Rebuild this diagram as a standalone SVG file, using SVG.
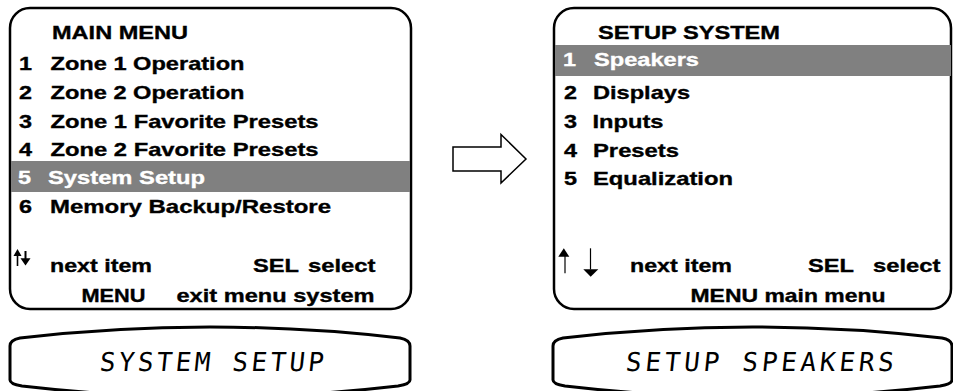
<svg xmlns="http://www.w3.org/2000/svg" width="953" height="391" viewBox="0 0 953 391">
<style>
.scr{fill:#fff;stroke:#000;stroke-width:2.5}
.bar{fill:#808080}
.t{font-family:"Liberation Sans",Arial,sans-serif;font-weight:bold;font-size:18.6px;fill:#000;stroke:#000;stroke-width:0.35}
.w{fill:#fff;stroke:#fff}
.lcd{fill:#fff;stroke:#000;stroke-width:3}
.lt{font-family:"DejaVu Sans Mono",monospace;font-size:26px;fill:#000}
.sym{fill:#000;stroke:none}
.stem{stroke:#000;fill:none}
</style>
<rect width="953" height="391" fill="#fff"/>

<g id="main-menu">
<rect class="scr" x="10" y="8" width="401" height="301" rx="20"/>
<rect class="bar" x="11" y="161" width="399" height="31"/>
<text class="t" x="52" y="39.3" textLength="136" lengthAdjust="spacingAndGlyphs">MAIN MENU</text>
<text class="t" x="19" y="70" textLength="13" lengthAdjust="spacingAndGlyphs">1</text>
<text class="t" x="50.5" y="70" textLength="194" lengthAdjust="spacingAndGlyphs">Zone 1 Operation</text>
<text class="t" x="19" y="98.6" textLength="13" lengthAdjust="spacingAndGlyphs">2</text>
<text class="t" x="50.5" y="98.6" textLength="194" lengthAdjust="spacingAndGlyphs">Zone 2 Operation</text>
<text class="t" x="19" y="127.5" textLength="13" lengthAdjust="spacingAndGlyphs">3</text>
<text class="t" x="50.5" y="127.5" textLength="268" lengthAdjust="spacingAndGlyphs">Zone 1 Favorite Presets</text>
<text class="t" x="19" y="156" textLength="13" lengthAdjust="spacingAndGlyphs">4</text>
<text class="t" x="50.5" y="156" textLength="268" lengthAdjust="spacingAndGlyphs">Zone 2 Favorite Presets</text>
<text class="t w" x="18" y="183.5" textLength="13" lengthAdjust="spacingAndGlyphs">5</text>
<text class="t w" x="48" y="183.5" textLength="157" lengthAdjust="spacingAndGlyphs">System Setup</text>
<text class="t" x="19" y="213" textLength="13" lengthAdjust="spacingAndGlyphs">6</text>
<text class="t" x="50" y="213" textLength="281" lengthAdjust="spacingAndGlyphs">Memory Backup/Restore</text>
<path class="stem" stroke-width="1.6" d="M17.5,254 V266"/>
<polygon class="sym" points="13.5,256 17.5,249 21.5,256"/>
<path class="stem" stroke-width="2" d="M25.5,251 V259"/>
<polygon class="sym" points="20.5,258.3 30.5,258.3 25.5,265.5"/>
<text class="t" x="50" y="271.7" textLength="102" lengthAdjust="spacingAndGlyphs">next item</text>
<text class="t" x="253" y="271.7" textLength="46" lengthAdjust="spacingAndGlyphs">SEL</text>
<text class="t" x="308" y="271.7" textLength="67.5" lengthAdjust="spacingAndGlyphs">select</text>
<text class="t" x="81.5" y="301.7" textLength="64" lengthAdjust="spacingAndGlyphs">MENU</text>
<text class="t" x="176.5" y="301.7" textLength="198" lengthAdjust="spacingAndGlyphs">exit menu system</text>
</g>

<g id="setup-system">
<rect class="scr" x="554" y="8" width="397" height="301" rx="20"/>
<rect class="bar" x="555" y="45" width="396" height="31"/>
<text class="t" x="598" y="39" textLength="182" lengthAdjust="spacingAndGlyphs">SETUP SYSTEM</text>
<text class="t w" x="563" y="65.7" textLength="13" lengthAdjust="spacingAndGlyphs">1</text>
<text class="t w" x="594" y="65.7" textLength="105" lengthAdjust="spacingAndGlyphs">Speakers</text>
<text class="t" x="564" y="99" textLength="13" lengthAdjust="spacingAndGlyphs">2</text>
<text class="t" x="593" y="99" textLength="97" lengthAdjust="spacingAndGlyphs">Displays</text>
<text class="t" x="564" y="128" textLength="13" lengthAdjust="spacingAndGlyphs">3</text>
<text class="t" x="592.5" y="128" textLength="71" lengthAdjust="spacingAndGlyphs">Inputs</text>
<text class="t" x="564" y="156.7" textLength="13" lengthAdjust="spacingAndGlyphs">4</text>
<text class="t" x="593" y="156.7" textLength="86" lengthAdjust="spacingAndGlyphs">Presets</text>
<text class="t" x="564" y="185" textLength="13" lengthAdjust="spacingAndGlyphs">5</text>
<text class="t" x="593" y="185" textLength="140" lengthAdjust="spacingAndGlyphs">Equalization</text>
<path class="stem" stroke-width="1.2" d="M565,256 V273.3"/>
<polygon class="sym" points="558.3,256.7 563.8,248.3 569.3,256.7"/>
<path class="stem" stroke-width="1.2" d="M590.5,248.3 V269.5"/>
<polygon class="sym" points="583.3,269.3 598.3,269.3 590.7,276.7"/>
<text class="t" x="630" y="271.7" textLength="102" lengthAdjust="spacingAndGlyphs">next item</text>
<text class="t" x="808" y="271.7" textLength="46" lengthAdjust="spacingAndGlyphs">SEL</text>
<text class="t" x="873" y="271.7" textLength="67.5" lengthAdjust="spacingAndGlyphs">select</text>
<text class="t" x="690.5" y="301.7" textLength="195" lengthAdjust="spacingAndGlyphs">MENU main menu</text>
</g>

<g id="lcd-left">
<path class="lcd" d="M10,346 Q10,340 20,338 Q210,316 400,338 Q410,340 410,346 L410,380 Q410,384 398,386 Q210,408 22,386 Q10,384 10,380 Z"/>
<text class="lt" transform="translate(99,370.7) skewX(-6)" x="0" y="0" textLength="224" lengthAdjust="spacing">SYSTEM SETUP</text>
</g>

<g id="lcd-right">
<path class="lcd" d="M553,346 Q553,340 563,338 Q752,316 942,338 Q952,340 952,346 L952,380 Q952,384 940,386 Q752,408 565,386 Q553,384 553,380 Z"/>
<text class="lt" transform="translate(625,370.7) skewX(-6)" x="0" y="0" textLength="268" lengthAdjust="spacing">SETUP SPEAKERS</text>
</g>

<g id="connectors">
<polygon points="453,147 501,147 501,134.5 526,159 501,183 501,171 453,171" fill="#fff" stroke="#000" stroke-width="1.5"/>
</g>
</svg>
